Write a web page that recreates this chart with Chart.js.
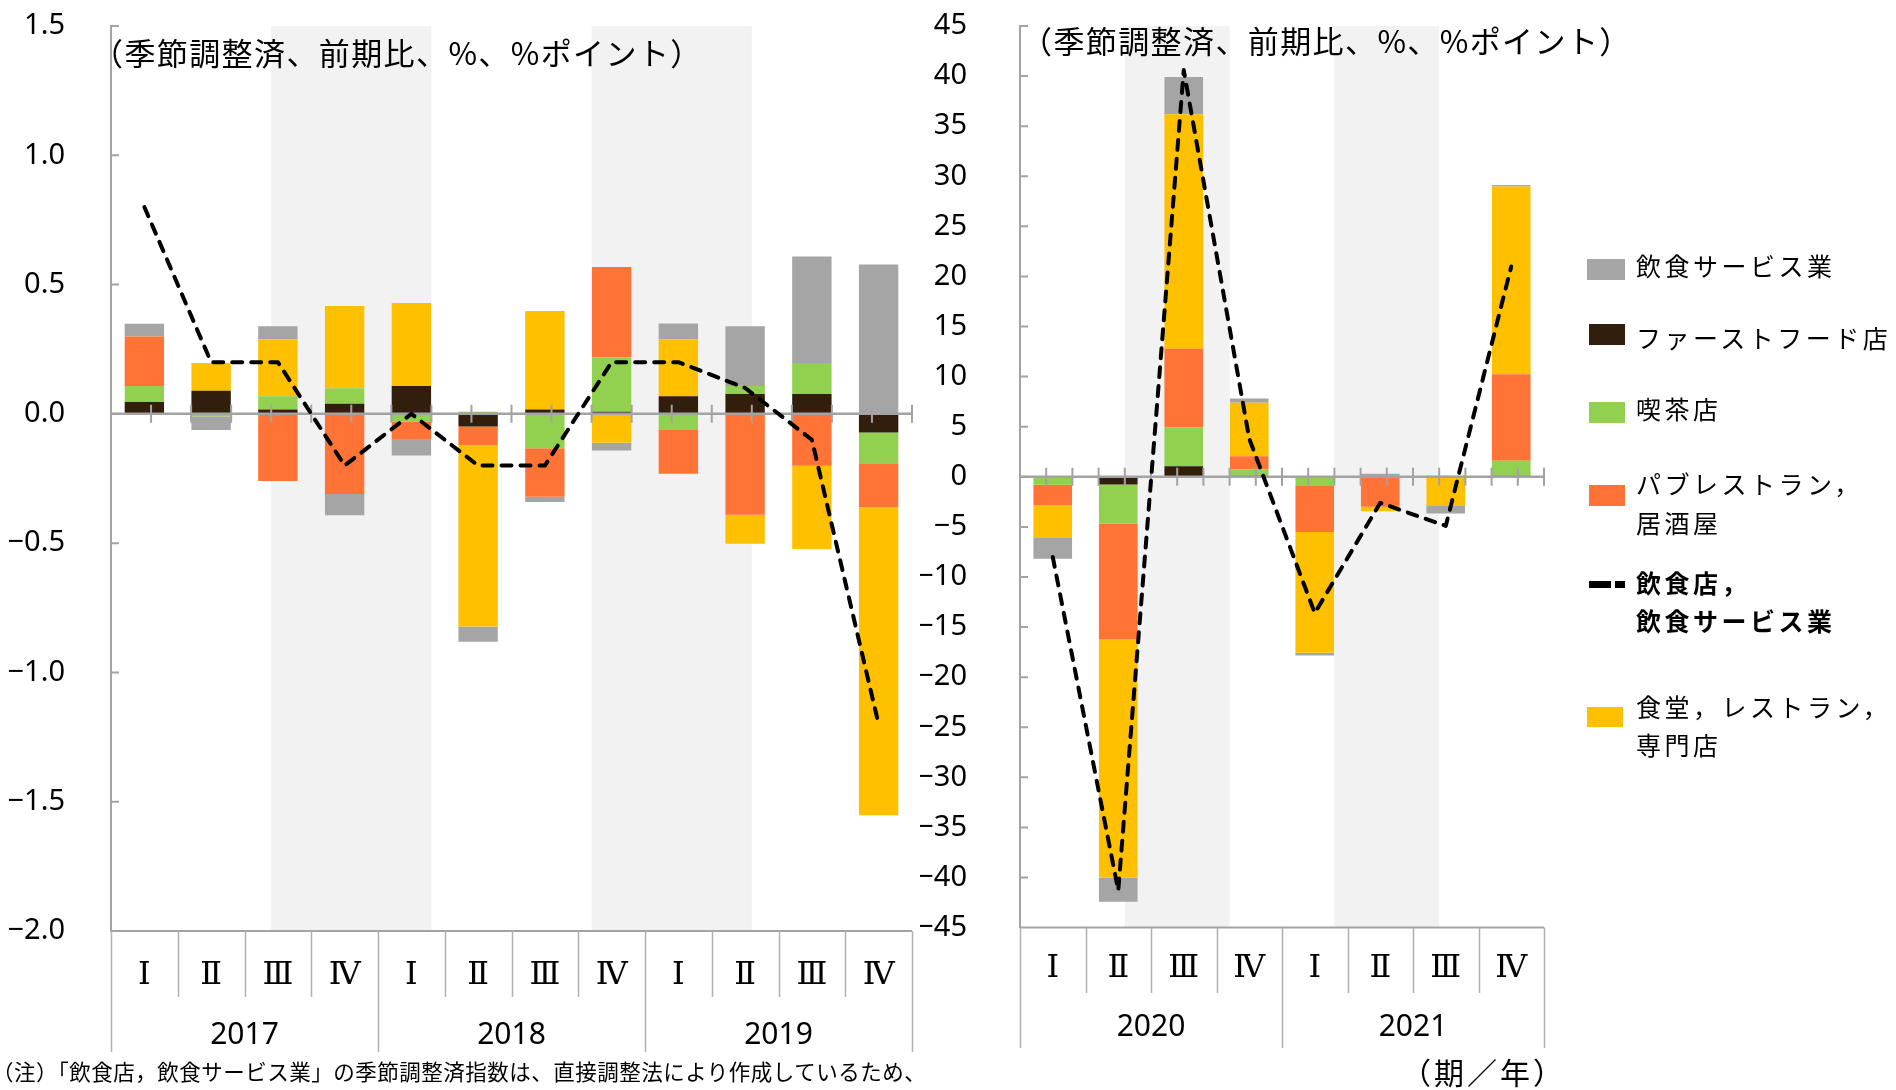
<!DOCTYPE html>
<html lang="ja">
<head>
<meta charset="utf-8">
<title>飲食店，飲食サービス業 前期比と寄与度</title>
<script src="https://cdn.jsdelivr.net/npm/chart.js@4/dist/chart.umd.min.js"></script>
<style>
html, body { margin: 0; padding: 0; background: #fff; }
#page { position: relative; width: 1896px; height: 1090px; overflow: hidden;
        font-family: 'Noto Sans CJK JP', 'Noto Sans', sans-serif; color: #000; }
canvas { position: absolute; left: 0; top: 0; }
.t { position: absolute; white-space: nowrap; }
.title { font-size: 31px; line-height: 31px; letter-spacing: 1.4px; }
.lg { font-size: 25px; line-height: 25px; letter-spacing: 3.5px; }
.lg.b { font-weight: bold; }
.sw { position: absolute; }
.note { font-size: 21.5px; line-height: 22px; letter-spacing: 0.5px; }
.unit { font-size: 30px; line-height: 30px; letter-spacing: 3px; }
</style>
</head>
<body>
<div id="page">
  <canvas id="chartLeft" width="1896" height="1090"></canvas>
  <canvas id="chartRight" width="1896" height="1090"></canvas>
  <div class="t title" style="left:92px;top:36px">（季節調整済、前期比、%、%ポイント）</div>
  <div class="t title" style="left:1021px;top:24px">（季節調整済、前期比、%、%ポイント）</div>
  <div class="t note" style="left:-8px;top:1060px">（注）「飲食店，飲食サービス業」の季節調整済指数は、直接調整法により作成しているため、</div>
  <div class="t unit" style="right:330px;top:1056px">（期／年）</div>
  <div id="legend"></div>
</div>
<script>
// ---- 2017–2019 (前期比 %, 寄与度 %ポイント) ----
const leftQuarters = ['Ⅰ', 'Ⅱ', 'Ⅲ', 'Ⅳ', 'Ⅰ', 'Ⅱ', 'Ⅲ', 'Ⅳ', 'Ⅰ', 'Ⅱ', 'Ⅲ', 'Ⅳ'];
const leftYears = ['2017', '2018', '2019'];
const leftFastFood   = [0.046, 0.089, 0.017, 0.039, 0.108, -0.049, 0.017, 0.008, 0.068, 0.077, 0.077, -0.072];
const leftCafe       = [0.062, -0.010, 0.051, 0.060, -0.031, 0.008, -0.133, 0.211, -0.062, 0.031, 0.120, -0.119];
const leftPub        = [0.191, 0, -0.260, -0.310, -0.069, -0.071, -0.188, 0.349, -0.170, -0.390, -0.201, -0.170];
const leftRestaurant = [0, 0.108, 0.221, 0.318, 0.321, -0.702, 0.381, -0.112, 0.221, -0.112, -0.322, -1.191];
const leftService    = [0.049, -0.052, 0.050, -0.082, -0.061, -0.059, -0.020, -0.030, 0.060, 0.231, 0.412, 0.578];
const leftTotal      = [0.8, 0.2, 0.2, -0.2, 0.0, -0.2, -0.2, 0.2, 0.2, 0.1, -0.1, -1.2];
const leftAxis = { min: -2.0, max: 1.5, step: 0.5, decimals: 1 };

// ---- 2020–2021 ----
const rightQuarters = ['Ⅰ', 'Ⅱ', 'Ⅲ', 'Ⅳ', 'Ⅰ', 'Ⅱ', 'Ⅲ', 'Ⅳ'];
const rightYears = ['2020', '2021'];
const rightFastFood   = [0, -0.76, 1.06, 0.1, 0, 0, 0, 0.1];
const rightCafe       = [-0.8, -3.93, 3.86, 0.63, -0.93, 0, 0.1, 1.5];
const rightPub        = [-2.03, -11.5, 7.85, 1.33, -4.57, -3.0, 0, 8.64];
const rightRestaurant = [-3.2, -23.8, 23.43, 5.32, -12.06, -0.43, -2.83, 18.73];
const rightService    = [-2.16, -2.44, 3.7, 0.43, -0.28, 0.3, -0.83, 0.17];
const rightTotal      = [-8.0, -41.3, 40.6, 3.8, -13.6, -2.6, -4.9, 21.0];
const rightAxis = { min: -45, max: 45, step: 5, decimals: 0 };

// series names and colours
const seriesNames = {
  service: '飲食サービス業',
  fastFood: 'ファーストフード店',
  cafe: '喫茶店',
  pub: 'パブレストラン，居酒屋',
  total: '飲食店，飲食サービス業',
  restaurant: '食堂，レストラン，専門店'
};
const colors = {
  service: '#a5a5a5',
  fastFood: '#321e0c',
  cafe: '#92d050',
  pub: '#ff7337',
  restaurant: '#ffc000',
  total: '#000000'
};

Chart.defaults.font.family = "'Noto Sans', 'Noto Sans CJK JP', sans-serif";
Chart.defaults.color = '#000';

function fmtTick(v, decimals) {
  const s = Math.abs(v).toFixed(decimals);
  return (v < -1e-9 ? '\u2212' : '') + s;
}

// background strips, zero line, inward y ticks and the two-row category axis
const axisDecor = {
  id: 'axisDecor',
  beforeDatasetsDraw(chart) {
    const { ctx, chartArea: a } = chart;
    const w = (a.right - a.left) / 5;
    ctx.save();
    ctx.fillStyle = '#f2f2f2';
    [1, 3].forEach(i => ctx.fillRect(a.left + i * w, a.top, w, a.bottom - a.top));
    ctx.restore();
  },
  beforeDatasetDraw(chart, args) {
    if (args.meta.type !== 'line') return;
    const { ctx, chartArea: a, scales: { y } } = chart;
    const y0 = y.getPixelForValue(0);
    ctx.save();
    ctx.strokeStyle = '#a3a3a3';
    ctx.lineWidth = 2.5;
    ctx.beginPath();
    ctx.moveTo(a.left, y0);
    ctx.lineTo(a.right, y0);
    ctx.stroke();
    ctx.lineWidth = 2;
    ctx.beginPath();
    for (let i = 0; i <= 20; i++) {
      const px = a.left + i * (a.right - a.left) / 20;
      ctx.moveTo(px, y0 - 9);
      ctx.lineTo(px, y0 + 9);
    }
    ctx.stroke();
    ctx.restore();
  },
  afterDraw(chart, args, o) {
    const { ctx, chartArea: a, scales: { x, y } } = chart;
    const n = chart.data.labels.length;
    ctx.save();
    ctx.strokeStyle = '#a3a3a3';
    ctx.lineWidth = 2;
    ctx.beginPath();
    y.ticks.forEach(t => {
      const py = y.getPixelForValue(t.value);
      ctx.moveTo(a.left, py);
      ctx.lineTo(a.left + 8, py);
    });
    ctx.moveTo(a.left, a.bottom);
    ctx.lineTo(a.right, a.bottom);
    ctx.stroke();

    const group = n / o.years.length;
    ctx.strokeStyle = '#b0b0b0';
    ctx.lineWidth = 1.5;
    ctx.beginPath();
    for (let k = 0; k <= n; k++) {
      const px = Math.round(x.getPixelForValue(k - 0.5)) + 0.5;
      ctx.moveTo(px, a.bottom);
      ctx.lineTo(px, a.bottom + (k % group === 0 ? o.longSep : o.shortSep));
    }
    ctx.stroke();

    ctx.fillStyle = '#000';
    ctx.textAlign = 'center';
    ctx.textBaseline = 'middle';
    ctx.font = "32px 'DejaVu Serif', 'Noto Sans CJK JP'";
    chart.data.labels.forEach((lab, i) => {
      ctx.fillText(lab, x.getPixelForValue(i), a.bottom + o.quarterDy);
    });
    ctx.font = "30px 'Noto Sans'";
    o.years.forEach((yr, g) => {
      const cx = (x.getPixelForValue(g * group - 0.5) + x.getPixelForValue((g + 1) * group - 0.5)) / 2;
      ctx.fillText(yr, cx, a.bottom + o.yearDy);
    });
    ctx.restore();
  }
};

function buildChart(id, labels, series, axis, padding, yWidth, yPad, decor) {
  const bar = (key, data) => ({
    type: 'bar', label: seriesNames[key], data, backgroundColor: colors[key],
    borderWidth: 0, order: 1
  });
  return new Chart(document.getElementById(id), {
    type: 'bar',
    data: {
      labels,
      datasets: [
        bar('fastFood', series.fastFood),
        bar('cafe', series.cafe),
        bar('pub', series.pub),
        bar('restaurant', series.restaurant),
        bar('service', series.service),
        {
          type: 'line', label: seriesNames.total, data: series.total,
          borderColor: colors.total, borderWidth: 4, borderDash: [10, 9],
          borderCapStyle: 'round', borderJoinStyle: 'round',
          pointRadius: 0, tension: 0, fill: false, order: 0
        }
      ]
    },
    options: {
      responsive: false,
      animation: false,
      events: [],
      layout: { padding },
      datasets: { bar: { categoryPercentage: 1, barPercentage: 0.59 } },
      plugins: { legend: { display: false }, tooltip: { enabled: false }, axisDecor: decor },
      scales: {
        x: { stacked: true, display: false, offset: true },
        y: {
          stacked: true, min: axis.min, max: axis.max,
          afterFit: s => { s.width = yWidth; s.paddingTop = 0; s.paddingBottom = 0; },
          ticks: {
            stepSize: axis.step, padding: yPad, color: '#000',
            font: { family: "'Noto Sans'", size: 29 },
            callback: v => fmtTick(v, axis.decimals)
          },
          grid: { display: false },
          border: { display: true, color: '#a3a3a3', width: 2 }
        }
      }
    },
    plugins: [axisDecor]
  });
}

buildChart('chartLeft', leftQuarters,
  { fastFood: leftFastFood, cafe: leftCafe, pub: leftPub, restaurant: leftRestaurant, service: leftService, total: leftTotal },
  leftAxis, { left: 0, right: 984, top: 26, bottom: 159 }, 111, 38,
  { years: leftYears, shortSep: 66, longSep: 121, quarterDy: 45, yearDy: 104 });

buildChart('chartRight', rightQuarters,
  { fastFood: rightFastFood, cafe: rightCafe, pub: rightPub, restaurant: rightRestaurant, service: rightService, total: rightTotal },
  rightAxis, { left: 920, right: 352, top: 26, bottom: 162.4 }, 100, 45,
  { years: rightYears, shortSep: 65.4, longSep: 120.4, quarterDy: 41, yearDy: 100 });

// legend
const legendRows = [
  { key: 'service', lines: ['飲食サービス業'], textY: [266], swatch: [1587, 259, 38, 21] },
  { key: 'fastFood', lines: ['ファーストフード店'], textY: [338], swatch: [1589, 324, 36, 21] },
  { key: 'cafe', lines: ['喫茶店'], textY: [409], swatch: [1589, 402, 36, 21] },
  { key: 'pub', lines: ['パブレストラン，', '居酒屋'], textY: [484, 523], swatch: [1589, 485, 36, 21] },
  { key: 'total', lines: ['飲食店，', '飲食サービス業'], textY: [583, 621], dash: [[1589, 581, 22, 7], [1615, 581, 10, 7]], bold: true },
  { key: 'restaurant', lines: ['食堂，レストラン，', '専門店'], textY: [707, 745], swatch: [1587, 707, 36, 20] }
];
const legendBox = document.getElementById('legend');
legendRows.forEach(row => {
  const rects = row.dash || [row.swatch];
  rects.forEach(([l, t, w, h]) => {
    const d = document.createElement('div');
    d.className = 'sw';
    d.style.cssText = `left:${l}px;top:${t}px;width:${w}px;height:${h}px;background:${colors[row.key]}`;
    legendBox.appendChild(d);
  });
  row.lines.forEach((txt, i) => {
    const d = document.createElement('div');
    d.className = 't lg' + (row.bold ? ' b' : '');
    d.style.left = '1636px';
    d.style.top = (row.textY[i] - 13.5) + 'px';
    d.textContent = txt;
    legendBox.appendChild(d);
  });
});
</script>
</body>
</html>
